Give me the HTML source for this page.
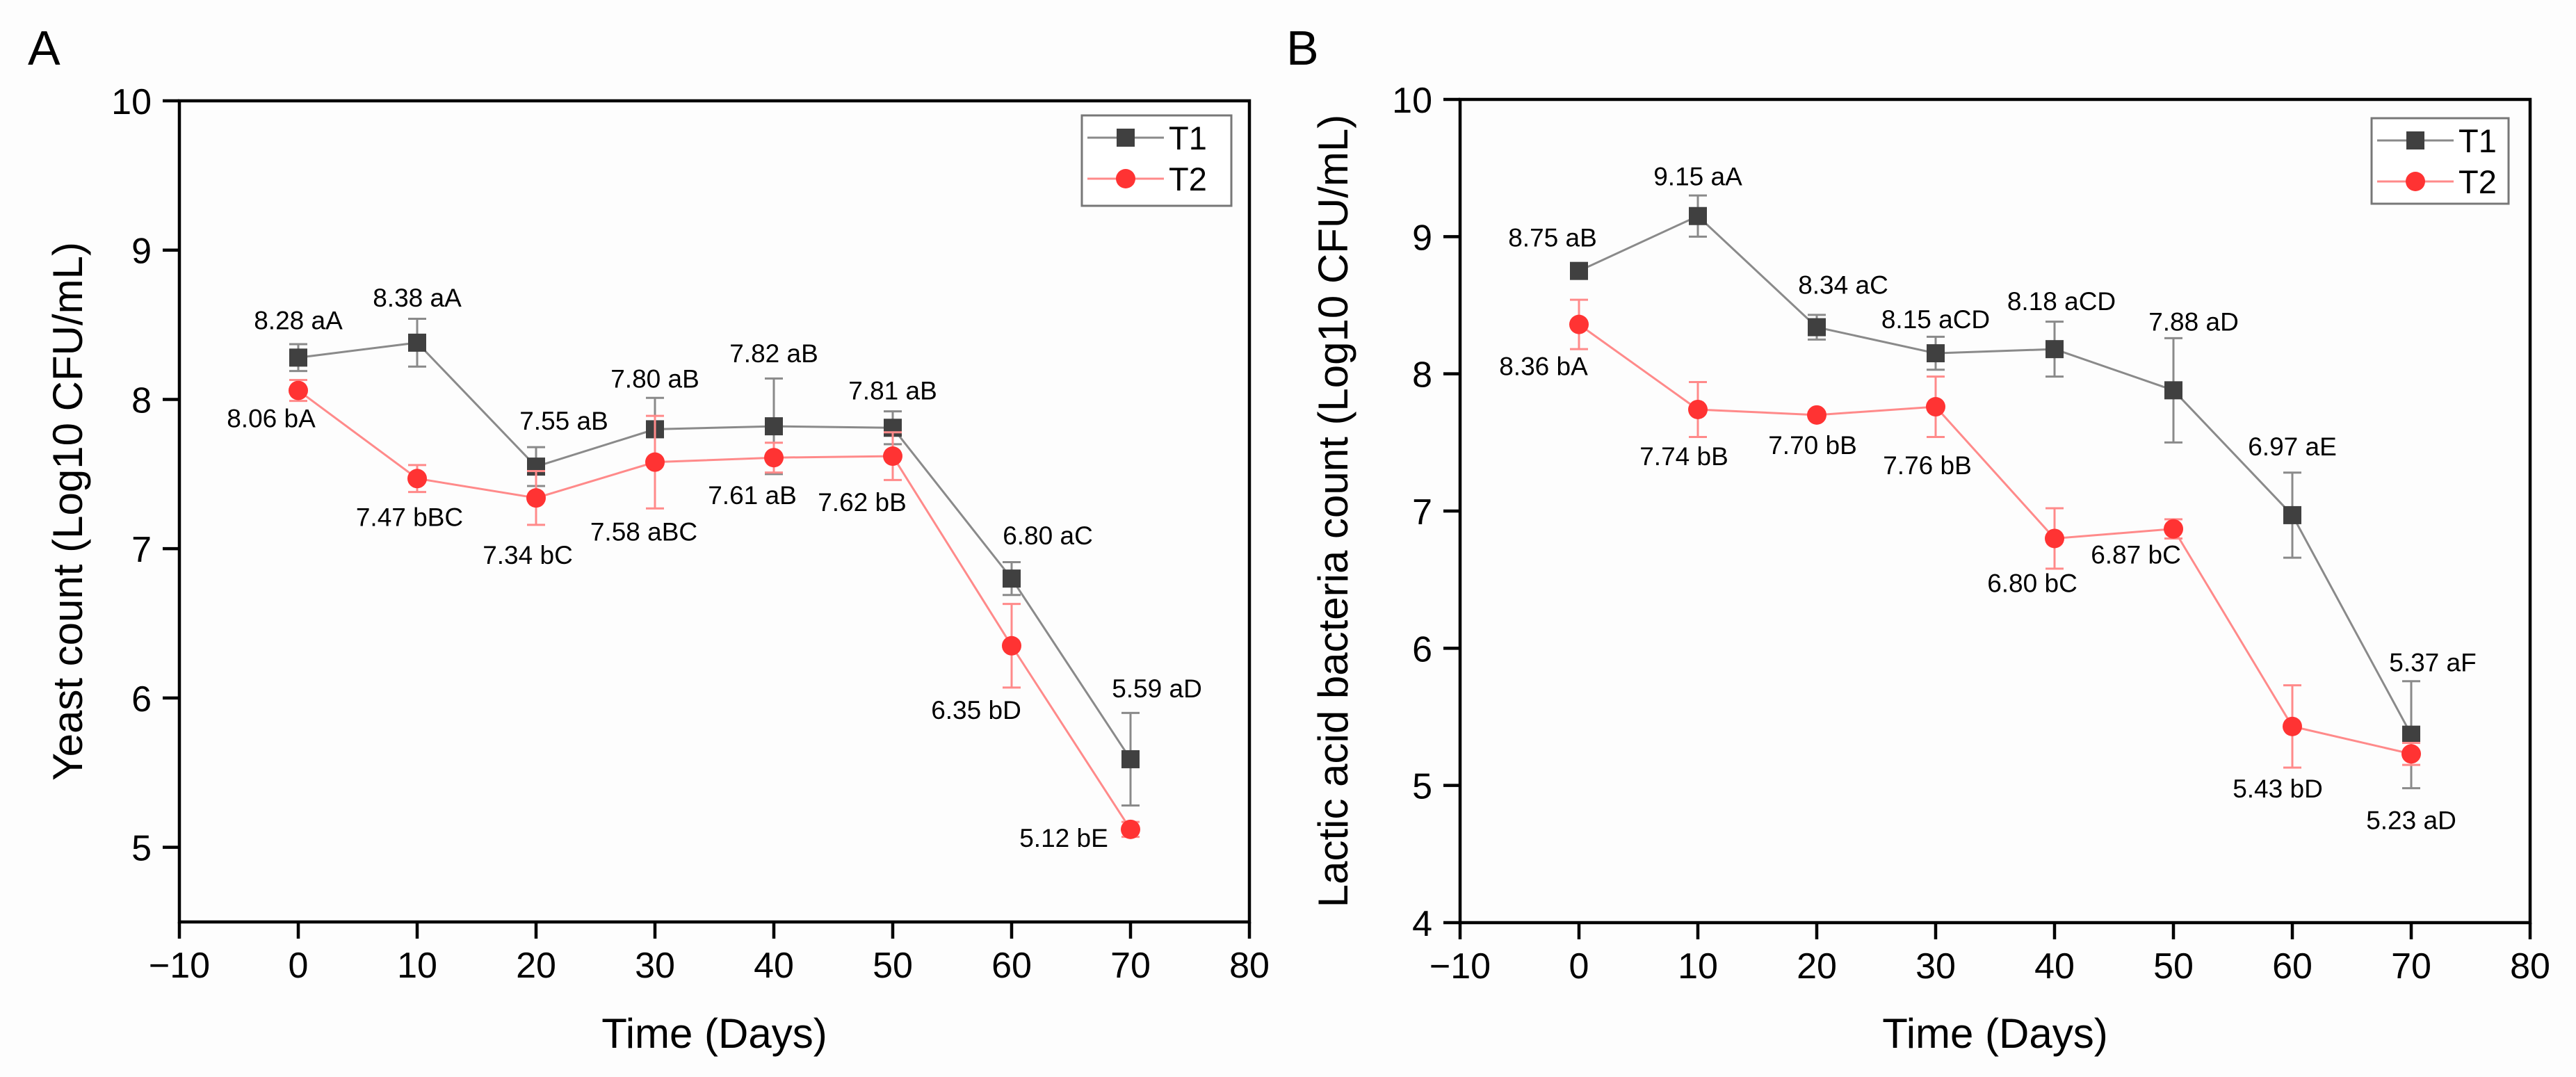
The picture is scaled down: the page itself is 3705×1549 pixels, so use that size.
<!DOCTYPE html>
<html><head><meta charset="utf-8"><style>
html,body{margin:0;padding:0;background:#fdfdfd}
svg{display:block;font-family:"Liberation Sans",Arial,sans-serif}
</style></head><body>
<svg id="fig" width="3705" height="1549" viewBox="0 0 3705 1549"></svg>
<script>
// ---- data ----
const days = [0,10,20,30,40,50,60,70];
const xTicks = [-10,0,10,20,30,40,50,60,70,80];
const yTicksA = [5,6,7,8,9,10];
const yTicksB = [4,5,6,7,8,9,10];
const seriesNames = ["T1","T2"];
const yeastT1 = [8.28,8.38,7.55,7.80,7.82,7.81,6.80,5.59];
const yeastT1Err = [0.09,0.16,0.13,0.21,0.32,0.11,0.11,0.31];
const yeastT2 = [8.06,7.47,7.34,7.58,7.61,7.62,6.35,5.12];
const yeastT2Err = [0.07,0.09,0.18,0.31,0.10,0.16,0.28,0.05];
const yeastT1Labels = ["8.28 aA","8.38 aA","7.55 aB","7.80 aB","7.82 aB","7.81 aB","6.80 aC","5.59 aD"];
const yeastT2Labels = ["8.06 bA","7.47 bBC","7.34 bC","7.58 aBC","7.61 aB","7.62 bB","6.35 bD","5.12 bE"];
const labT1 = [8.75,9.15,8.34,8.15,8.18,7.88,6.97,5.37];
const labT1Err = [0.03,0.15,0.09,0.12,0.20,0.38,0.31,0.39];
const labT2 = [8.36,7.74,7.70,7.76,6.80,6.87,5.43,5.23];
const labT2Err = [0.18,0.20,0.02,0.22,0.22,0.07,0.30,0.08];
const labT1Labels = ["8.75 aB","9.15 aA","8.34 aC","8.15 aCD","8.18 aCD","7.88 aD","6.97 aE","5.37 aF"];
const labT2Labels = ["8.36 bA","7.74 bB","7.70 bB","7.76 bB","6.80 bC","6.87 bC","5.43 bD","5.23 aD"];
// label offsets (layout, px)
const offA1 = [[0,-54],[0,-65],[40,-66],[0,-73],[0,-105],[0,-54],[52,-62],[38,-102]];
const offA2 = [[-39,40],[-11,55],[-12,82],[-16,100],[-31,54],[-44,66],[-51,92],[-96,12]];
const offB1 = [[-38,-48],[0,-57],[38,-61],[0,-49],[10,-69],[29,-99],[0,-99],[31,-104]];
const offB2 = [[-51,60],[-20,67],[-6,43],[-12,84],[-32,64],[-54,37],[-21,89],[0,95]];

const NS="http://www.w3.org/2000/svg";
const svg=document.getElementById('fig');
function mk(tag,attrs,parent,text){const e=document.createElementNS(NS,tag);for(const k in attrs)e.setAttribute(k,attrs[k]);if(text!==undefined)e.textContent=text;(parent||svg).appendChild(e);return e;}

function panel(P){
  const g=mk('g',{});
  
  
  const sx=d=>P.x0+(d-(-10))*(P.x1-P.x0)/90;
  const sy=v=>P.yb-(v-P.ymin)*(P.yb-P.yt)/(P.ymax-P.ymin);
  const L=mk('text',{x:P.letterX,y:93,'font-size':70,fill:'#000'},g,P.letter);
  
  
  const fr=mk('rect',{x:P.x0,y:P.yt,width:P.x1-P.x0,height:P.yb-P.yt,fill:'none',stroke:'#000','stroke-width':4.5},g);
  
  
  xTicks.forEach(t=>{
    const X=sx(t);
    const tk=mk('line',{x1:X,x2:X,y1:P.yb,y2:P.yb+24,stroke:'#000','stroke-width':4.5},g);
    
    
    const tl=mk('text',{x:X,y:P.yb+80,'font-size':52,'text-anchor':'middle',fill:'#000'},g,t<0?'\u2212'+(-t):String(t));
    
    
  });
  P.yTicks.forEach(t=>{
    const Y=sy(t);
    const tk=mk('line',{x1:P.x0-24,x2:P.x0,y1:Y,y2:Y,stroke:'#000','stroke-width':4.5},g);
    
    
    const tl=mk('text',{x:P.x0-40,y:Y+19,'font-size':52,'text-anchor':'end',fill:'#000'},g,String(t));
    
    
  });
  const xt=mk('text',{x:(P.x0+P.x1)/2,y:1507,'font-size':60,'text-anchor':'middle',fill:'#000'},g,'Time (Days)');
  
  
  const yt=mk('text',{x:0,y:0,'font-size':60,'text-anchor':'middle',fill:'#000',transform:`translate(${P.ytx},${(P.yt+P.yb)/2}) rotate(-90)`},g,P.ytitle);
  
  
  P.series.forEach((s,si)=>{
    const sg=mk('g',{},g);
    
    
    const pts=days.map((d,i)=>sx(d)+','+sy(s.vals[i])).join(' ');
    const pl=mk('polyline',{points:pts,fill:'none',stroke:s.line,'stroke-width':3},sg);
    
    
    days.forEach((d,i)=>{
      const X=sx(d),Yt=sy(s.vals[i]+s.err[i]),Yb=sy(s.vals[i]-s.err[i]);
      const eb=mk('path',{d:`M${X},${Yt}V${Yb}M${X-13},${Yt}H${X+13}M${X-13},${Yb}H${X+13}`,stroke:s.line,'stroke-width':3,fill:'none'},sg);
      
      
    });
    days.forEach((d,i)=>{
      const X=sx(d),Y=sy(s.vals[i]);
      let m;
      if(s.shape==='sq') m=mk('rect',{x:X-13,y:Y-13,width:26,height:26,fill:s.mark},sg);
      else m=mk('circle',{cx:X,cy:Y,r:14,fill:s.mark},sg);
      
      
      const lb=mk('text',{x:X+s.off[i][0],y:Y+s.off[i][1]+13,'font-size':37,'text-anchor':'middle',fill:'#000'},sg,s.labels[i]);
      
      
    });
  });
  const lg=mk('g',{},g);
  
  
  const lb=P.leg;
  mk('rect',{x:lb[0],y:lb[1],width:lb[2],height:lb[3],fill:'#fff',stroke:'#777','stroke-width':3},lg);
  P.series.forEach((s,si)=>{
    const ry=lb[1]+32+si*59;
    const e=mk('g',{},lg);
    
    
    mk('line',{x1:lb[0]+8,x2:lb[0]+118,y1:ry,y2:ry,stroke:s.line,'stroke-width':3},e);
    if(s.shape==='sq') mk('rect',{x:lb[0]+50,y:ry-13,width:26,height:26,fill:s.mark},e);
    else mk('circle',{cx:lb[0]+63,cy:ry,r:14,fill:s.mark},e);
    mk('text',{x:lb[0]+125,y:ry+17,'font-size':47,fill:'#000'},e,seriesNames[si]);
  });
}
const gray={line:'#8a8a8a',mark:'#404040',shape:'sq'};
const red={line:'#ff8a8a',mark:'#ff3333',shape:'ci'};
panel({name:'panel-a-yeast',letter:'A',letterX:40,x0:258,x1:1797,yt:145,yb:1326,ymin:4.5,ymax:10,yTicks:yTicksA,
  ytitle:'Yeast count (Log10 CFU/mL)',ytx:118,leg:[1556,166,215,130],
  series:[Object.assign({vals:yeastT1,err:yeastT1Err,labels:yeastT1Labels,off:offA1},gray),
          Object.assign({vals:yeastT2,err:yeastT2Err,labels:yeastT2Labels,off:offA2},red)]});
panel({name:'panel-b-lab',letter:'B',letterX:1850,x0:2100,x1:3639,yt:143,yb:1327,ymin:4,ymax:10,yTicks:yTicksB,
  ytitle:'Lactic acid bacteria count (Log10 CFU/mL)',ytx:1938,leg:[3411,170,197,123],
  series:[Object.assign({vals:labT1,err:labT1Err,labels:labT1Labels,off:offB1},gray),
          Object.assign({vals:labT2,err:labT2Err,labels:labT2Labels,off:offB2},red)]});
</script>
</body></html>
